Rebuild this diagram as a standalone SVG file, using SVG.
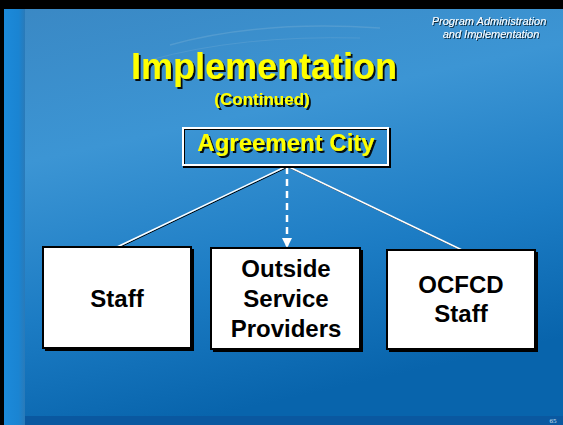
<svg xmlns="http://www.w3.org/2000/svg" width="563" height="425" viewBox="0 0 563 425">
<defs>
<linearGradient id="bg" x1="0" y1="0" x2="0.3" y2="1">
<stop offset="0" stop-color="#3a88c4"/>
<stop offset="0.35" stop-color="#3c95d4"/>
<stop offset="0.7" stop-color="#1c7cc4"/>
<stop offset="1" stop-color="#0864ac"/>
</linearGradient>
<linearGradient id="strip" x1="0" y1="0" x2="1" y2="0">
<stop offset="0" stop-color="#1c8ada"/>
<stop offset="0.7" stop-color="#1a84d2"/>
<stop offset="1" stop-color="#2a7ab8"/>
</linearGradient>
<filter id="sh" x="-10%" y="-10%" width="130%" height="140%">
<feDropShadow dx="2" dy="2" stdDeviation="0.3" flood-color="#000" flood-opacity="0.9"/>
</filter>
<filter id="shs" x="-10%" y="-10%" width="130%" height="140%">
<feDropShadow dx="1" dy="1" stdDeviation="0.3" flood-color="#000" flood-opacity="0.7"/>
</filter>
<marker id="ah" markerWidth="10" markerHeight="12" refX="9" refY="5" orient="auto" markerUnits="userSpaceOnUse" viewBox="0 0 10 10">
<path d="M0,0 L10,5 L0,10 Z" fill="#fff"/>
</marker>
<style>
.y{font-family:"Liberation Sans",Arial,sans-serif;font-weight:bold;fill:#ffff00;text-anchor:middle;filter:url(#sh)}
.b{font-family:"Liberation Sans",Arial,sans-serif;font-weight:bold;fill:#000;text-anchor:middle;font-size:24px}
.box{fill:#fff;stroke:#000;stroke-width:2}
.hd{font-family:"Liberation Sans",Arial,sans-serif;font-style:italic;fill:#fff;font-size:11px;text-anchor:middle;filter:url(#shs)}
</style>
</defs>
<rect width="563" height="425" fill="#000"/>
<rect x="4" y="9" width="559" height="416" fill="url(#bg)"/>
<rect x="4" y="9" width="21" height="416" fill="url(#strip)"/>
<rect x="25" y="416" width="538" height="9" fill="#0a58a0"/>
<path d="M170,45 Q260,20 380,28" stroke="#6aa8d4" stroke-width="1.5" fill="none" opacity="0.5"/>
<path d="M150,60 Q240,35 360,38" stroke="#6aa8d4" stroke-width="1" fill="none" opacity="0.4"/>

<text class="hd" x="489" y="25">Program Administration</text>
<text class="hd" x="491" y="38">and Implementation</text>

<text class="y" x="264" y="79" font-size="36">Implementation</text>
<text class="y" x="262" y="105" font-size="17">(Continued)</text>

<g id="connectors">
<line x1="287" y1="166" x2="117" y2="247" stroke="#000" stroke-width="1" transform="translate(1,1)"/>
<line x1="287" y1="166" x2="117" y2="247" stroke="#fff" stroke-width="1.5"/>
<line x1="287" y1="166" x2="462" y2="250" stroke="#000" stroke-width="1" transform="translate(1,1)"/>
<line x1="287" y1="166" x2="462" y2="250" stroke="#fff" stroke-width="1.5"/>
<line x1="287" y1="167" x2="287" y2="247" stroke="#fff" stroke-width="2.5" stroke-dasharray="7,5" marker-end="url(#ah)"/>
</g>

<g id="agreement">
<rect x="184" y="129" width="206" height="38" fill="none" stroke="#000" stroke-width="2"/>
<rect x="183" y="128" width="205" height="37" fill="none" stroke="#fff" stroke-width="2"/>
<text class="y" x="286" y="151" font-size="24">Agreement City</text>
</g>

<g id="staff">
<rect x="45" y="249" width="149" height="102" fill="#000"/>
<rect class="box" x="43" y="247" width="148" height="101"/>
<text class="b" x="117" y="307">Staff</text>
</g>

<g id="outside">
<rect x="213" y="250" width="150" height="102" fill="#000"/>
<rect class="box" x="211" y="248" width="149" height="101"/>
<text class="b" x="286" y="277">Outside</text>
<text class="b" x="286" y="307">Service</text>
<text class="b" x="286" y="337">Providers</text>
</g>

<g id="ocfcd">
<rect x="389" y="252" width="149" height="100" fill="#000"/>
<rect class="box" x="387" y="250" width="148" height="99"/>
<text class="b" x="461" y="293">OCFCD</text>
<text class="b" x="461" y="322">Staff</text>
</g>

<text x="553" y="423" font-family="Liberation Serif,serif" font-size="7" fill="#cfe0f0" text-anchor="middle">65</text>
</svg>
